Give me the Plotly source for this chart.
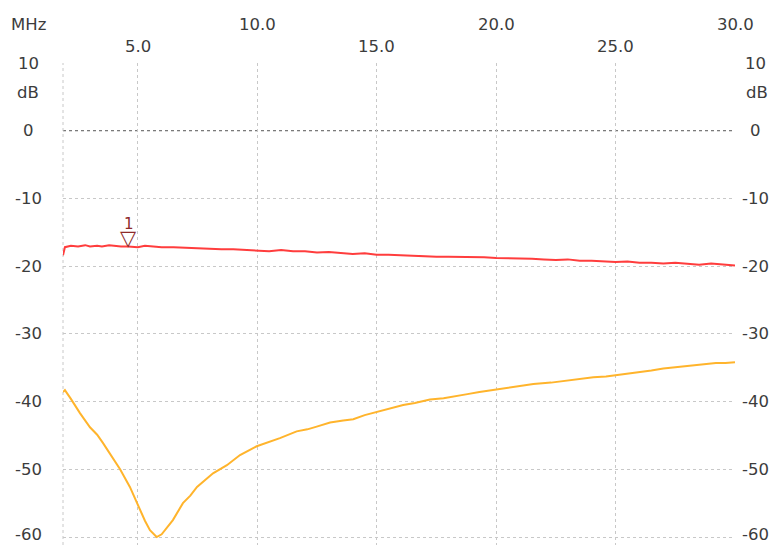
import plotly.graph_objects as go

# Sweep span (MHz) and level scale (dB)
F_START, F_STOP = 1.87, 30.0
DB_TOP, DB_BOTTOM = 10.0, -61.18

# Trace 1 (red): transmission level
red_freq = [1.87, 1.95, 2.2, 2.5, 2.8, 3.0, 3.3, 3.5, 3.8, 4.0, 4.3, 4.6, 5.0, 5.3, 5.6,
            6.0, 6.5, 7.0, 7.5, 8.0, 8.5, 9.0, 9.5, 10.0, 10.5, 11.0, 11.5, 12.0, 12.5,
            13.0, 13.5, 14.0, 14.5, 15.0, 15.5, 16.0, 16.5, 17.0, 17.5, 18.0, 18.5, 19.0,
            19.5, 20.0, 20.5, 21.0, 21.5, 22.0, 22.5, 23.0, 23.5, 24.0, 24.5, 25.0, 25.5,
            26.0, 26.5, 27.0, 27.5, 28.0, 28.5, 29.0, 29.5, 30.0]
red_db = [-18.4, -17.2, -17.0, -17.1, -16.9, -17.1, -17.0, -17.1, -16.9, -17.0, -17.1, -17.1,
          -17.2, -17.0, -17.1, -17.2, -17.2, -17.3, -17.4, -17.4, -17.5, -17.5, -17.6, -17.6,
          -17.8, -17.6, -17.8, -17.8, -18.0, -17.9, -18.1, -18.2, -18.1, -18.3, -18.3, -18.4,
          -18.4, -18.5, -18.6, -18.6, -18.6, -18.7, -18.7, -18.8, -18.8, -18.8, -18.9, -19.0,
          -19.1, -19.0, -19.2, -19.2, -19.3, -19.4, -19.3, -19.5, -19.5, -19.6, -19.5, -19.7,
          -19.8, -19.6, -19.8, -19.9]

# Trace 2 (yellow): notch response
yel_freq = [1.87, 1.95, 2.2, 2.58, 3.0, 3.3, 3.54, 4.0, 4.26, 4.67, 5.09, 5.3, 5.51, 5.79,
            6.0, 6.21, 6.47, 6.89, 7.2, 7.48, 7.8, 8.15, 8.73, 9.28, 9.98, 10.5, 10.95, 11.65,
            12.1, 12.49, 13.05, 13.6, 14.02, 14.5, 15.0, 15.5, 16.11, 16.6, 17.23, 17.8, 18.2,
            18.8, 19.3, 20.0, 20.8, 21.56, 22.3, 22.95, 23.5, 24.07, 24.6, 25.05, 25.5, 26.0,
            26.5, 27.0, 27.6, 28.25, 28.7, 29.2, 29.6, 30.0]
yel_db = [-38.6, -38.3, -39.6, -41.7, -43.8, -44.9, -46.1, -48.5, -50.0, -52.6, -56.0, -57.6,
          -59.0, -60.0, -59.6, -58.7, -57.5, -55.0, -53.9, -52.6, -51.6, -50.6, -49.4, -47.9,
          -46.6, -46.0, -45.4, -44.4, -44.1, -43.7, -43.1, -42.8, -42.6, -42.0, -41.5, -41.0,
          -40.5, -40.2, -39.7, -39.5, -39.3, -38.9, -38.6, -38.2, -37.8, -37.4, -37.2, -36.9,
          -36.7, -36.4, -36.3, -36.1, -35.9, -35.6, -35.4, -35.1, -34.9, -34.6, -34.5, -34.3,
          -34.3, -34.2]

# Marker 1
marker_freq = 4.63
marker_db = -17.1

x_ticks = [5, 10, 15, 20, 25, 30]
x_tick_labels = ["5.0", "10.0", "15.0", "20.0", "25.0", "30.0"]
y_ticks = [10, 0, -10, -20, -30, -40, -50, -60]
y_tick_labels = ["10", "0", "-10", "-20", "-30", "-40", "-50", "-60"]

TEXT = "#3c3c3c"
GRID = "#c8c8c8"
FONT = dict(family="DejaVu Sans", size=16.5, color=TEXT)

fig = go.Figure()
fig.add_trace(go.Scatter(x=red_freq, y=red_db, mode="lines",
                         line=dict(color="#ff3d3d", width=2), hoverinfo="skip"))
fig.add_trace(go.Scatter(x=yel_freq, y=yel_db, mode="lines",
                         line=dict(color="#ffb42c", width=2), hoverinfo="skip"))

annotations = []
# Frequency labels along the top, staggered in two rows
for i, (v, t) in enumerate(zip(x_ticks, x_tick_labels)):
    annotations.append(dict(x=v, xref="x", y=1, yref="paper", text=t, showarrow=False,
                            xanchor="center", yanchor="middle",
                            yshift=39 if i % 2 else 17, font=FONT))
annotations.append(dict(x=0, xref="paper", y=1, yref="paper", text="MHz", showarrow=False,
                        xanchor="center", yanchor="middle", xshift=-35, yshift=39, font=FONT))
# Level labels on both sides (the lowest one nudged up to stay inside the frame)
for v, t in zip(y_ticks, y_tick_labels):
    ys = 3 if v == y_ticks[-1] else 0
    annotations.append(dict(x=0, xref="paper", y=v, yref="y", text=t, showarrow=False,
                            xanchor="center", yanchor="middle", xshift=-35, yshift=ys,
                            font=FONT))
    annotations.append(dict(x=1, xref="paper", y=v, yref="y", text=t, showarrow=False,
                            xanchor="center", yanchor="middle", xshift=20, yshift=ys,
                            font=FONT))
for xp, xs in ((0, -35), (1, 22)):
    annotations.append(dict(x=xp, xref="paper", y=DB_TOP, yref="y", text="dB", showarrow=False,
                            xanchor="center", yanchor="middle", xshift=xs, yshift=-29, font=FONT))
# Marker 1 glyph and number
MK = "#8e2a2a"
annotations.append(dict(x=marker_freq, y=marker_db, xref="x", yref="y", text="▽",
                        showarrow=False, xanchor="center", yanchor="bottom", yshift=-5,
                        font=dict(family="DejaVu Sans", size=21, color=MK)))
annotations.append(dict(x=marker_freq, y=marker_db, xref="x", yref="y", text="1",
                        showarrow=False, xanchor="center", yanchor="bottom", yshift=12,
                        font=dict(family="DejaVu Sans", size=15, color=MK)))

shapes = [
    # 0 dB reference line
    dict(type="line", xref="paper", x0=0, x1=1, yref="y", y0=0, y1=0,
         line=dict(color="#555555", width=1, dash="dot"), layer="below"),
    # left border of the grid
    dict(type="line", xref="paper", x0=0, x1=0, yref="paper", y0=0, y1=1,
         line=dict(color=GRID, width=1, dash="dot"), layer="below"),
]

fig.update_layout(
    width=777, height=545,
    margin=dict(l=63, r=42, t=63, b=0),
    paper_bgcolor="white", plot_bgcolor="white",
    showlegend=False,
    annotations=annotations,
    shapes=shapes,
    xaxis=dict(range=[F_START, F_STOP], tickvals=x_ticks, showticklabels=False,
               showgrid=True, gridcolor=GRID, griddash="dot", gridwidth=1,
               zeroline=False, showline=False, ticks=""),
    yaxis=dict(range=[DB_BOTTOM, DB_TOP], tickvals=[v for v in y_ticks if v != 0],
               showticklabels=False, showgrid=True, gridcolor=GRID, griddash="dot",
               gridwidth=1, zeroline=False, showline=False, ticks=""),
)

fig.write_html("out.html")
